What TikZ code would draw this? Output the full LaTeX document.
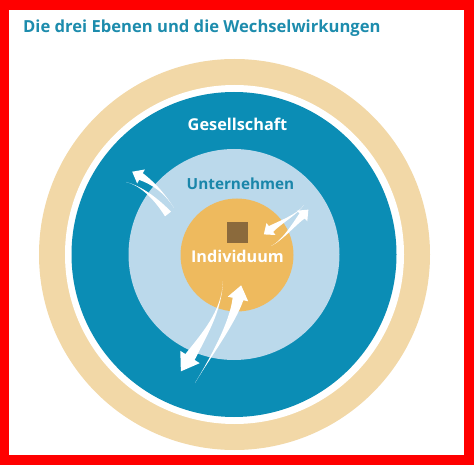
\documentclass[tikz,border=0pt]{standalone}
\usepackage{fontspec}
\setmainfont{Open Sans}
\usetikzlibrary{calc}
\definecolor{frame}{HTML}{FF0000}
\definecolor{beige}{HTML}{F2D8A7}
\definecolor{darkblue}{HTML}{0B8DB5}
\definecolor{lightblue}{HTML}{BBD9EB}
\definecolor{orange}{HTML}{EEBA5E}
\definecolor{brown}{HTML}{8B6A3C}
\definecolor{titleteal}{HTML}{1D8CAD}
\definecolor{textteal}{HTML}{1A86AA}
\tikzset{
  arrowfill/.style={fill=white},
  lbl/.style={inner sep=0pt, anchor=base, font=\bfseries}
}
% tail, c1, c2, base, shaft half-width, head half-width, head length
\newcommand\wsarrow[7]{%
  \fill[arrowfill] (#1) .. controls (#2) and ($(#3)!#5*0.5!-90:(#4)$) .. ($(#4)!#5!90:(#3)$)
   -- ($(#4)!#6!90:(#3)$) -- ($(#4)!-#7!(#3)$) -- ($(#4)!#6!-90:(#3)$) -- ($(#4)!#5!-90:(#3)$)
   .. controls ($(#3)!#5*0.5!90:(#4)$) and (#2) .. cycle;}
% tail, c1, c2, end, half-width
\newcommand\wsstroke[5]{%
  \fill[arrowfill] (#1) .. controls (#2) and ($(#3)!#5*0.5!-90:(#4)$) .. ($(#4)!#5!90:(#3)$)
   -- ($(#4)!#5!-90:(#3)$) .. controls ($(#3)!#5*0.5!90:(#4)$) and (#2) .. cycle;}
\begin{document}
\begin{tikzpicture}[x=1pt,y=-1pt]
\useasboundingbox (0,0) rectangle (474,465);
\fill[frame] (0,0) rectangle (474,465);
\fill[white] (9,10) rectangle (464,455);

\node[lbl, anchor=base west, text=titleteal, font=\bfseries\fontsize{16.6}{18}\selectfont] (title) at (23,33) {Die drei Ebenen und die Wechselwirkungen};

% rings
\fill[beige] (234.5,254.5) circle (195.5);
\fill[white] (234.5,254.5) circle (169.5);
\fill[darkblue] (234,254.5) circle (162.5);
\fill[lightblue] (234,254.5) circle (105.5);
\fill[orange] (237,255) circle (56.5);
\fill[brown] (227,222) rectangle (248,243);

\node[lbl, text=white, font=\bfseries\fontsize{16.3}{20}\selectfont] (ges) at (237.5,131) {Gesellschaft};
\node[lbl, text=textteal, font=\bfseries\fontsize{15.3}{20}\selectfont] (unt) at (240.5,190) {Unternehmen};
\node[lbl, text=white, font=\bfseries\fontsize{16.2}{18}\selectfont] (ind) at (237.5,262) {Individuum};

% upper left pair
\wsarrow{174,208}{164,192}{152,182.5}{141,176.5}{3.8pt}{8pt}{10pt}
\wsstroke{126,182}{142,186}{157,200}{168,214}{3.8pt}
% right pair
\wsarrow{271,246}{282,241}{295,223}{302,216}{3.6pt}{7.5pt}{9pt}
\wsarrow{304,205}{298,214}{279,223}{271,229}{3.6pt}{7.5pt}{9pt}
% bottom pair
\wsarrow{223,281}{222,311}{204,335}{190,357}{5.5pt}{11.5pt}{17pt}
\wsarrow{195,383}{210,358}{232.4,323.4}{238,299}{5.5pt}{10.5pt}{14pt}
\end{tikzpicture}
\end{document}
